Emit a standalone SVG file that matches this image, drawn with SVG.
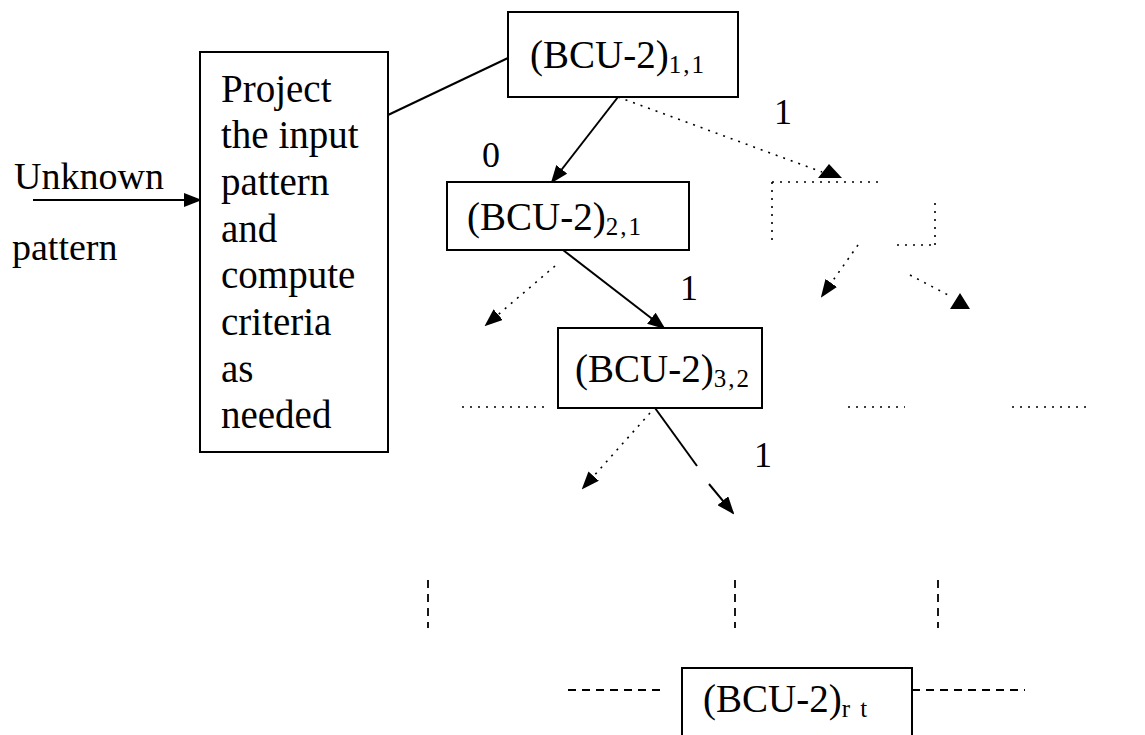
<svg xmlns="http://www.w3.org/2000/svg" width="1145" height="735" viewBox="0 0 1145 735">
<defs>
<marker id="ah" markerWidth="18" markerHeight="14" refX="16" refY="7" orient="auto" markerUnits="userSpaceOnUse">
<path d="M0,0 L18,7 L0,14 Z" fill="#000"/>
</marker>
<style>
.box{fill:#fff;stroke:#000;stroke-width:2}
.t{font-family:"Liberation Serif","Times New Roman",serif;fill:#000}
.big{font-size:39px}
.lab{font-size:38px}
.num{font-size:36px}
.sub{font-size:25px;letter-spacing:2px}
.solid{stroke:#000;stroke-width:2;fill:none}
.dot{stroke:#000;stroke-width:1.6;fill:none;stroke-dasharray:2,6}
.dash{stroke:#000;stroke-width:1.8;fill:none;stroke-dasharray:8,6}
</style>
</defs>
<rect width="1145" height="735" fill="#fff"/>

<g id="connectors">
<line class="solid" x1="33" y1="200" x2="200" y2="200" marker-end="url(#ah)"/>
<line class="solid" x1="388" y1="115" x2="508" y2="58"/>
<line class="solid" x1="618" y1="97" x2="552" y2="182" marker-end="url(#ah)"/>
<line class="dot" x1="618" y1="97" x2="822" y2="172"/>
<polygon points="829,164 842,178 818,178" fill="#000"/>
<line class="solid" x1="563" y1="250" x2="664" y2="328" marker-end="url(#ah)"/>
<line class="dot" x1="555" y1="266" x2="486" y2="325" marker-end="url(#ah)"/>
<line class="solid" x1="655" y1="408" x2="697" y2="466"/>
<line class="solid" x1="709" y1="484" x2="733" y2="513" marker-end="url(#ah)"/>
<line class="dot" x1="650" y1="413" x2="583" y2="488" marker-end="url(#ah)"/>
<line class="dot" x1="772" y1="182" x2="878" y2="182"/>
<line class="dot" x1="772" y1="182" x2="772" y2="245"/>
<line class="dot" x1="935" y1="203" x2="935" y2="245"/>
<line class="dot" x1="897" y1="245" x2="935" y2="245"/>
<line class="dot" x1="858" y1="245" x2="822" y2="296" marker-end="url(#ah)"/>
<line class="dot" x1="910" y1="275" x2="950" y2="296"/>
<polygon points="960,293 970,309 950,309" fill="#000"/>
<line class="dot" x1="462" y1="407" x2="545" y2="407"/>
<line class="dot" x1="848" y1="407" x2="905" y2="407"/>
<line class="dot" x1="1012" y1="407" x2="1090" y2="407"/>
<line class="dash" x1="428" y1="580" x2="428" y2="628"/>
<line class="dash" x1="735" y1="580" x2="735" y2="628"/>
<line class="dash" x1="938" y1="580" x2="938" y2="628"/>
<line class="dash" x1="568" y1="690" x2="660" y2="690"/>
<line class="dash" x1="912" y1="690" x2="1025" y2="690"/>
</g>

<g id="input-label">
<text class="t lab" x="14" y="189">Unknown</text>
<text class="t lab" x="12" y="260">pattern</text>
</g>

<g id="project">
<rect class="box" x="200" y="52" width="188" height="400"/>
<text class="t big" x="221" y="102">Project</text>
<text class="t big" x="221" y="148">the input</text>
<text class="t big" x="221" y="195">pattern</text>
<text class="t big" x="221" y="242">and</text>
<text class="t big" x="221" y="288">compute</text>
<text class="t big" x="221" y="335">criteria</text>
<text class="t big" x="221" y="382">as</text>
<text class="t big" x="221" y="428">needed</text>
</g>

<g id="bcu11">
<rect class="box" x="508" y="12" width="230" height="85"/>
<text class="t big" x="530" y="68">(BCU-2)<tspan class="sub" dy="5">1,1</tspan></text>
</g>

<g id="bcu21">
<rect class="box" x="447" y="182" width="242" height="68"/>
<text class="t big" x="467" y="230">(BCU-2)<tspan class="sub" dy="5">2,1</tspan></text>
</g>

<g id="bcu32">
<rect class="box" x="558" y="328" width="204" height="80"/>
<text class="t big" x="575" y="382">(BCU-2)<tspan class="sub" dy="5">3,2</tspan></text>
</g>

<g id="bcurt">
<rect class="box" x="682" y="668" width="230" height="80"/>
<text class="t big" x="703" y="712">(BCU-2)<tspan class="sub" dy="5">r t</tspan></text>
</g>

<g id="labels">
<text class="t num" x="482" y="167">0</text>
<text class="t num" x="774" y="124">1</text>
<text class="t num" x="680" y="300">1</text>
<text class="t num" x="754" y="467">1</text>
</g>
</svg>
